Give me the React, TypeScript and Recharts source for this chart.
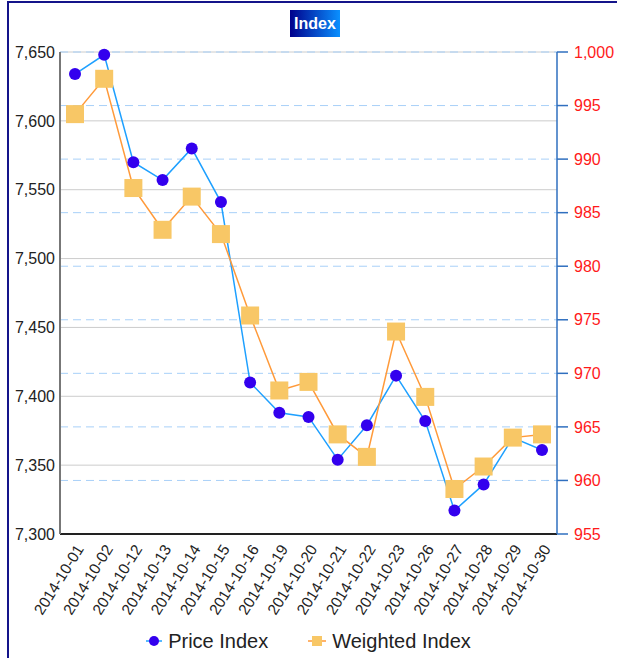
import React from 'react';
import {
  LineChart,
  Line,
  XAxis,
  YAxis,
  CartesianGrid,
  Legend,
} from 'recharts';

const dates = [
  '2014-10-01', '2014-10-02', '2014-10-12', '2014-10-13', '2014-10-14', '2014-10-15',
  '2014-10-16', '2014-10-19', '2014-10-20', '2014-10-21', '2014-10-22', '2014-10-23',
  '2014-10-26', '2014-10-27', '2014-10-28', '2014-10-29', '2014-10-30',
];
const priceIndex = [
  7634, 7648, 7570, 7557, 7580, 7541, 7410, 7388, 7385, 7354, 7379, 7415, 7382, 7317, 7336, 7370, 7361,
];
const weightedIndex = [
  994.2, 997.5, 987.3, 983.4, 986.5, 983.0, 975.4, 968.4, 969.2, 964.3, 962.2, 973.9, 967.8, 959.2, 961.3, 964.0, 964.3,
];
const leftTicks = [7300, 7350, 7400, 7450, 7500, 7550, 7600, 7650];
const rightTicks = [955, 960, 965, 970, 975, 980, 985, 990, 995, 1000];

const FONT = '"Liberation Sans", Arial, sans-serif';

const colors = {
  priceLine: '#1ea0ff',
  priceDot: '#3300ee',
  weightLine: '#ff9a3a',
  weightBox: '#f8c766',
  grid: '#cccccc',
  gridDash: '#a8d0f8',
  rightAxis: '#2f6fbf',
  rightText: '#ff1a1a',
  text: '#222222',
  border: '#14148a',
};

const fmt = (v: number) => v.toLocaleString('en-US');

const SquareDot = (props: any) => {
  const { cx, cy, index } = props;
  if (cx == null || cy == null) return <g key={`sq-${index}`} />;
  return (
    <rect key={`sq-${index}`} x={cx - 9} y={cy - 9} width={18} height={18} fill={colors.weightBox} />
  );
};

const LegendContent = () => (
  <div
    style={{
      display: 'flex',
      justifyContent: 'center',
      alignItems: 'center',
      fontFamily: FONT,
      fontSize: 20,
      color: colors.text,
      height: 34,
    }}
  >
    <svg width={16} height={12} style={{ marginRight: 6 }}>
      <line x1={0} y1={6} x2={16} y2={6} stroke={colors.priceLine} strokeWidth={1.5} />
      <circle cx={8} cy={6} r={5} fill={colors.priceDot} />
    </svg>
    <span style={{ marginRight: 40 }}>Price Index</span>
    <svg width={18} height={12} style={{ marginRight: 6 }}>
      <line x1={0} y1={6} x2={18} y2={6} stroke={colors.weightLine} strokeWidth={1.5} />
      <rect x={4} y={1} width={10} height={10} fill={colors.weightBox} />
    </svg>
    <span>Weighted Index</span>
  </div>
);

export default function App() {
  const data = dates.map((d, i) => ({
    date: d,
    price: priceIndex[i],
    weighted: weightedIndex[i],
  }));

  return (
    <div
      style={{
        position: 'absolute',
        left: 0,
        top: 0,
        width: 617,
        height: 658,
        overflow: 'hidden',
        background: '#fff',
      }}
    >
      <div
        style={{
          position: 'absolute',
          left: 7,
          top: 1,
          width: 700,
          height: 700,
          borderTop: `2px solid ${colors.border}`,
          borderLeft: `2px solid ${colors.border}`,
        }}
      />
      <div
        style={{
          position: 'absolute',
          left: 290,
          top: 10,
          width: 50,
          height: 27,
          background: 'linear-gradient(to right, #00008c, #0a90ff)',
          color: '#fff',
          fontFamily: FONT,
          fontWeight: 'bold',
          fontSize: 16,
          lineHeight: '27px',
          textAlign: 'center',
          zIndex: 2,
        }}
      >
        Index
      </div>
      <div style={{ position: 'absolute', left: 0, top: 0 }}>
        <LineChart
          width={617}
          height={658}
          data={data}
          margin={{ top: 52, right: 0, bottom: 0, left: 0 }}
        >
          <CartesianGrid
            yAxisId="left"
            vertical={false}
            stroke={colors.grid}
            horizontalValues={leftTicks}
          />
          <CartesianGrid
            yAxisId="right"
            vertical={false}
            stroke={colors.gridDash}
            strokeDasharray="8 5"
            horizontalValues={rightTicks}
          />
          <XAxis
            dataKey="date"
            height={90}
            interval={0}
            padding={{ left: 15, right: 15 }}
            tickLine={false}
            axisLine={{ stroke: '#222', strokeWidth: 2 }}
            angle={-58}
            textAnchor="end"
            tickMargin={3}
            tick={{ fill: colors.text, fontSize: 15.5, fontFamily: FONT }}
          />
          <YAxis
            yAxisId="left"
            orientation="left"
            width={60}
            domain={[7300, 7650]}
            ticks={leftTicks}
            tickFormatter={fmt}
            tickLine={false}
            tickSize={0}
            tickMargin={5}
            axisLine={{ stroke: '#777', strokeWidth: 2 }}
            tick={{ fill: colors.text, fontSize: 16, fontFamily: FONT }}
          />
          <YAxis
            yAxisId="right"
            orientation="right"
            width={60}
            domain={[955, 1000]}
            ticks={rightTicks}
            tickFormatter={fmt}
            tickSize={11}
            tickMargin={6}
            tickLine={{ stroke: colors.rightAxis, strokeWidth: 1.5 }}
            axisLine={{ stroke: colors.rightAxis, strokeWidth: 1.5 }}
            tick={{ fill: colors.rightText, fontSize: 16, fontFamily: FONT }}
          />
          <Legend verticalAlign="bottom" height={34} content={<LegendContent />} />
          <Line
            yAxisId="left"
            type="linear"
            dataKey="price"
            name="Price Index"
            stroke={colors.priceLine}
            strokeWidth={1.5}
            dot={{ r: 6, fill: colors.priceDot, stroke: 'none' }}
            activeDot={false}
            isAnimationActive={false}
          />
          <Line
            yAxisId="right"
            type="linear"
            dataKey="weighted"
            name="Weighted Index"
            stroke={colors.weightLine}
            strokeWidth={1.5}
            dot={SquareDot}
            activeDot={false}
            isAnimationActive={false}
          />
        </LineChart>
      </div>
    </div>
  );
}
